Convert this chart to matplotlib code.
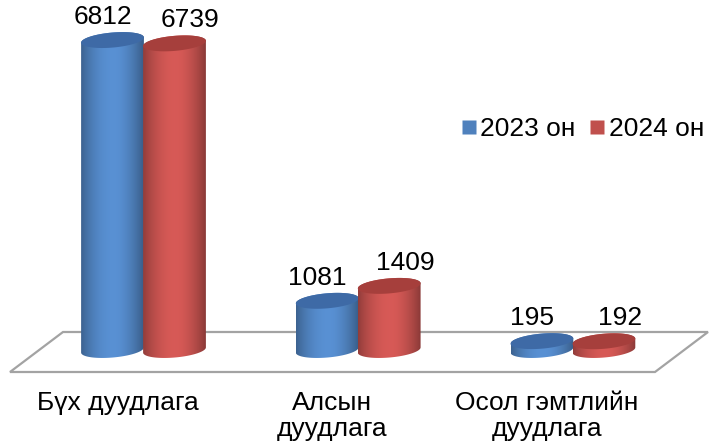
import numpy as np
import matplotlib.pyplot as plt
from matplotlib.path import Path
from matplotlib.patches import PathPatch, Polygon
from matplotlib.lines import Line2D

plt.rcParams['font.family'] = ['Liberation Sans', 'DejaVu Sans']

# data
categories = ["Бүх дуудлага", "Алсын\nдуудлага", "Осол гэмтлийн\nдуудлага"]
series_names = ["2023 он", "2024 он"]
values_2023 = [6812, 1081, 195]
values_2024 = [6739, 1409, 192]

# layout (pixels of the 713x444 figure)
W, H = 713, 444
GROUP0_PX = 143.5        # centre of first group
GROUP_STEP_PX = 214.7    # distance between groups
BASE_PX = 350            # y pixel of value 0 (bottom ellipse centre)
PX_PER_VALUE = 0.0455
BAR_W_PX = 63
BAR_GAP_PX = 62          # distance between the two bar centres of a group
ELL_H_PX = 15
TILT = np.deg2rad(5)
LABEL_SHIFT_PX = [-10, 16]
CAT_SHIFT_PX = -26
COLORS = [(79, 129, 189), (192, 80, 77)]
TOP_COLORS = ["#3e6aa6", "#a63f3c"]
FLOOR = [(63, 332), (708, 332), (655, 372), (10, 372)]
FS = 19

fig = plt.figure(figsize=(W / 100, H / 100), dpi=100)
ax = fig.add_axes([0, 0, 1, 1])
ax.set_xlim(-GROUP0_PX / GROUP_STEP_PX, (W - GROUP0_PX) / GROUP_STEP_PX)
ax.set_ylim(-(H - BASE_PX) / PX_PER_VALUE, BASE_PX / PX_PER_VALUE)
ax.axis("off")

#floor
floor = Polygon([(x / W, 1 - y / H) for x, y in FLOOR], closed=True,
                transform=ax.transAxes, facecolor="white", edgecolor="#a3a3a3",
                lw=1.6, zorder=1)
ax.add_patch(floor)

A = BAR_W_PX / 2
B = ELL_H_PX / 2
T0 = np.arctan(-B * np.tan(TILT) / A)   # parameter of the x extremes
HALF_EXT = np.hypot(A * np.sin(TILT), B * np.cos(TILT))


def ell(cx, cy, t):
    dx = A * np.cos(t) * np.cos(TILT) - B * np.sin(t) * np.sin(TILT)
    dy = A * np.cos(t) * np.sin(TILT) + B * np.sin(t) * np.cos(TILT)
    return cx + dx / GROUP_STEP_PX, cy + dy / PX_PER_VALUE


def shade(rgb):
    t = np.linspace(0, 1, 64)
    f = 0.72 + 0.4 * np.sin(np.pi * np.clip(t * 0.95 + 0.02, 0, 1)) ** 0.8
    f = f - 0.06 * (t > 0.6) * (t - 0.6) / 0.4
    img = np.clip(np.outer(f, np.array(rgb) / 255.0), 0, 1)
    return img.reshape(1, 64, 3)


def cylinder(cx, v, rgb, top_color, z):
    low = np.linspace(T0 + np.pi, T0 + 2 * np.pi, 60)
    up = np.linspace(T0, T0 + np.pi, 60)
    bx, by = ell(cx, 0, low)
    tx, ty = ell(cx, v, up)
    pts = list(zip(bx, by)) + list(zip(tx, ty))
    patch = PathPatch(Path(pts + [pts[0]]), facecolor="none", edgecolor="none")
    ax.add_patch(patch)
    x0, x1 = min(bx.min(), tx.min()), max(bx.max(), tx.max())
    im = ax.imshow(shade(rgb), extent=[x0, x1, by.min(), ty.max()],
                   aspect="auto", interpolation="bilinear", zorder=z)
    im.set_clip_path(patch)
    ex, ey = ell(cx, v, np.linspace(0, 2 * np.pi, 100))
    ax.add_patch(Polygon(list(zip(ex, ey)), closed=True, facecolor=top_color,
                         edgecolor="none", zorder=z + 0.1))


for i, cat in enumerate(categories):
    for j, vals in enumerate([values_2023, values_2024]):
        cx = i + (j - 0.5) * BAR_GAP_PX / GROUP_STEP_PX
        v = vals[i]
        cylinder(cx, v, COLORS[j], TOP_COLORS[j], 2 + j)
        ax.text(cx + LABEL_SHIFT_PX[j] / GROUP_STEP_PX,
                v + (HALF_EXT + 3) / PX_PER_VALUE, str(v), ha="center",
                va="bottom", fontsize=FS, color="black", zorder=5)
    ax.text(i + CAT_SHIFT_PX / GROUP_STEP_PX, -(391 - BASE_PX) / PX_PER_VALUE,
            cat, ha="center", va="top", fontsize=FS, linespacing=1.1)

handles = [Line2D([], [], ls="none", marker="s", markersize=9.5,
                  markerfacecolor=np.array(c) / 255, markeredgecolor="none")
           for c in COLORS]
ax.legend(handles, series_names, loc="center left",
          bbox_to_anchor=(462 / W, 1 - 129 / H), ncol=2, frameon=False,
          fontsize=FS, handlelength=0.5, handletextpad=0.2,
          columnspacing=0.55, borderpad=0, borderaxespad=0)

fig.savefig("out.png", dpi=100)
